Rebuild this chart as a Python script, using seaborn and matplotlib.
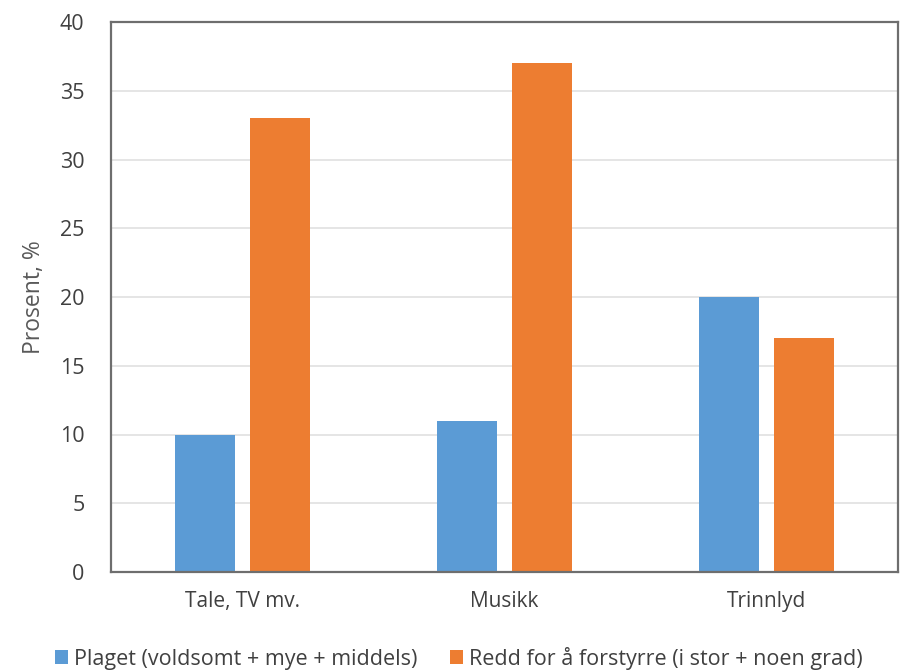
import matplotlib
matplotlib.use("Agg")
import matplotlib.pyplot as plt
import seaborn as sns
import pandas as pd
from matplotlib.patches import Patch

categories = ["Tale, TV mv.", "Musikk", "Trinnlyd"]
series_names = ["Plaget (voldsomt + mye + middels)",
                "Redd for å forstyrre (i stor + noen grad)"]
plaget = [10, 11, 20]
redd = [33, 37, 17]
y_ticks = [0, 5, 10, 15, 20, 25, 30, 35, 40]
colors = ["#5B9BD5", "#ED7D31"]

df = pd.DataFrame({
    "kategori": categories * 2,
    "serie": [series_names[0]] * 3 + [series_names[1]] * 3,
    "verdi": plaget + redd,
})

sns.set_theme(style="white")
plt.rcParams["font.family"] = ["Open Sans", "DejaVu Sans"]
text_color = "#404040"

fig = plt.figure(figsize=(9.05, 6.72), dpi=100)
ax = fig.add_axes([111 / 905, 1 - 572 / 672, 787 / 905, 550 / 672])

sns.barplot(data=df, x="kategori", y="verdi", hue="serie",
            palette=colors, saturation=1, width=0.573, gap=0.2, ax=ax,
            edgecolor="none", legend=False)

ax.set_ylim(0, 40)
ax.set_xlim(-0.5, 2.5)
ax.set_yticks(y_ticks)
ax.set_yticklabels([str(t) for t in y_ticks], fontsize=15.5, color=text_color)
ax.tick_params(axis="y", length=0, pad=19)
ax.tick_params(axis="x", length=0, pad=14, labelsize=15, labelcolor=text_color)
ax.set_xlabel("")
ax.set_ylabel("Prosent, %", fontsize=16.5, color="#595959")
ax.yaxis.set_label_coords((46 - 111) / 787, 0.5)
ax.yaxis.grid(True, color="#E3E3E3", linewidth=1.3)
ax.set_axisbelow(True)
for side in ["left", "right", "top", "bottom"]:
    ax.spines[side].set_visible(True)
    ax.spines[side].set_color("#6E6E6E")
    ax.spines[side].set_linewidth(1.6)

handles = [Patch(facecolor=c, edgecolor="none") for c in colors]
fig.legend(handles, series_names, loc="center", bbox_to_anchor=(459 / 905, 1 - 658 / 672),
           ncol=2, frameon=False, fontsize=15.5, handlelength=0.6, handleheight=0.6,
           handletextpad=0.3, columnspacing=1.5, labelcolor=text_color)

fig.savefig("out.png", dpi=100, facecolor="white")
